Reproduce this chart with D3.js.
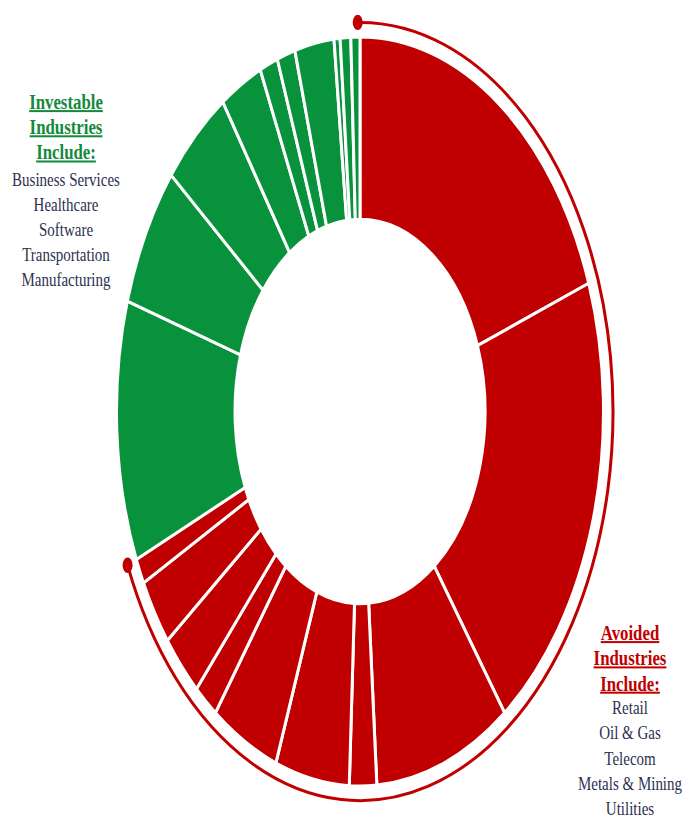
<!DOCTYPE html>
<html>
<head>
<meta charset="utf-8">
<script src="https://cdn.jsdelivr.net/npm/d3@7"></script>
<style>
  html, body { margin: 0; padding: 0; background: #fff; }
  svg { display: block; }
  .lbl { font-family: "Liberation Serif", "Times New Roman", serif; text-anchor: middle; }
  .lbl--title { font-weight: bold; font-size: 16.8px; text-decoration: underline; }
  .lbl--item { font-size: 15px; fill: #2c3050; }
</style>
</head>
<body>
<div id="chart"></div>
<script>
// slice shares (% of total), read clockwise from 12 o'clock
const avoidedShares = [19.4, 20.4, 9.0, 1.8, 4.9, 4.5, 1.6, 2.8, 2.9, 1.1];
const investableShares = [11.2, 6.1, 4.6, 2.8, 1.2, 1.2, 2.6, 0.4, 0.7, 0.6];

const investableTitle = ["Investable", "Industries", "Include:"];
const investableItems = ["Business Services", "Healthcare", "Software", "Transportation", "Manufacturing"];
const avoidedTitle = ["Avoided", "Industries", "Include:"];
const avoidedItems = ["Retail", "Oil & Gas", "Telecom", "Metals & Mining", "Utilities"];

const width = 689;
const height = 819;
const cx = 360;
const cy = 411.5;
const stretch = 1.538; // the picture is drawn taller than wide
const outerR = 243.5;
const innerR = 125;
const bracketR = 253;

const colors = { avoided: "#c00000", investable: "#08923c" };

const slices = [
  ...avoidedShares.map((v) => ({ group: "avoided", value: v })),
  ...investableShares.map((v) => ({ group: "investable", value: v })),
];

const pie = d3.pie().sort(null).value((d) => d.value);
const arcs = pie(slices);

const arc = d3.arc().innerRadius(innerR).outerRadius(outerR);

const svg = d3.select("#chart").append("svg")
  .attr("width", width)
  .attr("height", height);

const g = svg.append("g")
  .attr("transform", `translate(${cx},${cy}) scale(1,${stretch})`);

g.selectAll(".slice")
  .data(arcs)
  .join("path")
  .attr("class", "slice")
  .attr("d", arc)
  .attr("fill", (d) => colors[d.data.group])
  .attr("stroke", "#fff")
  .attr("stroke-width", 3)
  .attr("vector-effect", "non-scaling-stroke");

// bracket around the avoided slices
const avoidedArcs = arcs.filter((d) => d.data.group === "avoided");
const a0 = avoidedArcs[0].startAngle - 0.009;
const a1 = avoidedArcs[avoidedArcs.length - 1].endAngle;

const bracket = d3.arc()
  .innerRadius(bracketR)
  .outerRadius(bracketR)
  .startAngle(a0)
  .endAngle(a1);

g.append("path")
  .attr("d", bracket())
  .attr("fill", "none")
  .attr("stroke", colors.avoided)
  .attr("stroke-width", 3)
  .attr("vector-effect", "non-scaling-stroke");

g.selectAll(".bracket-end")
  .data([a0, a1])
  .join("circle")
  .attr("class", "bracket-end")
  .attr("cx", (a) => bracketR * Math.sin(a))
  .attr("cy", (a) => -bracketR * Math.cos(a))
  .attr("r", 5)
  .attr("fill", colors.avoided);

// text blocks
function textBlock(x, titleY, itemY, step, title, items, color) {
  const block = svg.append("g");
  title.forEach((t, i) => {
    block.append("text")
      .attr("class", "lbl lbl--title")
      .attr("transform", `translate(${x},${titleY + i * step}) scale(1,1.2)`)
      .attr("fill", color)
      .text(t);
  });
  items.forEach((t, i) => {
    block.append("text")
      .attr("class", "lbl lbl--item")
      .attr("transform", `translate(${x},${itemY + i * step}) scale(1,1.2)`)
      .text(t);
  });
}

textBlock(66, 109, 185.5, 25.2, investableTitle, investableItems, "#15893c");
textBlock(630, 640, 714, 25.3, avoidedTitle, avoidedItems, colors.avoided);
</script>
</body>
</html>
